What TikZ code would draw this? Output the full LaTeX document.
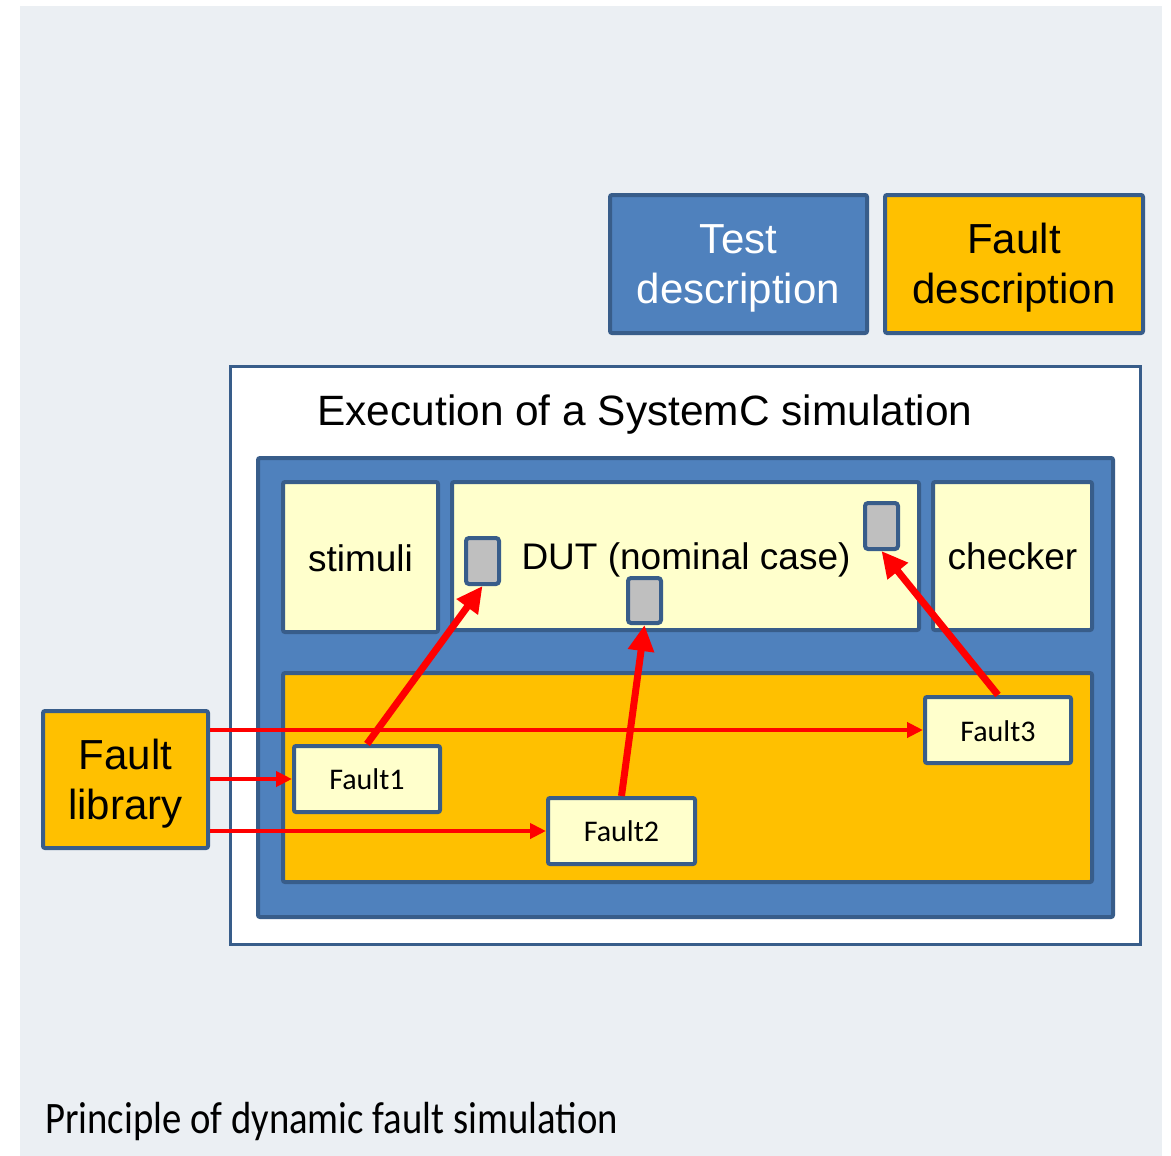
\documentclass[tikz,border=0pt]{standalone}
\usepackage{fontspec}
\setmainfont{Liberation Sans}
\newfontfamily\califont{Carlito}
\usetikzlibrary{fit,arrows.meta}
\definecolor{bgc}{RGB}{235,239,243}
\definecolor{bord}{RGB}{56,93,138}
\definecolor{bluef}{RGB}{79,129,189}
\definecolor{orangef}{RGB}{255,192,0}
\definecolor{yellowf}{RGB}{255,255,204}
\definecolor{greyf}{RGB}{191,191,191}
\definecolor{redc}{RGB}{255,0,0}
\begin{document}
\begin{tikzpicture}[x=1pt,y=-1pt,
  box/.style={draw=bord, line width=4pt, inner sep=0pt, rounded corners=2pt},
  bigtext/.style={font=\fontsize{42}{50}\selectfont, align=center, inner sep=0pt},
  midtext/.style={font=\fontsize{37}{44}\selectfont, inner sep=0pt},
  faulttext/.style={font=\califont\fontsize{30}{36}\selectfont, inner sep=0pt},
  thinarrow/.style={draw=redc, line width=4pt, -{Triangle[length=16pt,width=15pt]}},
  thickarrow/.style={draw=redc, line width=7pt, -{Triangle[length=26pt,width=25pt]}},
]
\useasboundingbox (0,0) rectangle (1171,1156);
\fill[bgc] (20,6) rectangle (1162,1156);

\node[box, fill=bluef, fit={(610,195) (867,333)}] (test) {};
\node[bigtext, text=white, yshift=-4pt] (testtext) at (test.center) {Test\\description};
\node[box, fill=orangef, fit={(885,195) (1143,333)}] (fdesc) {};
\node[bigtext, yshift=-4pt] (fdesctext) at (fdesc.center) {Fault\\description};

\node[draw=bord, line width=3pt, fill=white, inner sep=0pt, fit={(230,366) (1140,944)}] (exec) {};
\node[bigtext, anchor=base, font=\fontsize{42.4}{50}\selectfont] (title) at (645,425) {Execution of a SystemC simulation};

\node[box, fill=bluef, fit={(258,458) (1113,917)}] (sim) {};
\node[box, fill=yellowf, fit={(283,482) (438,632)}] (stim) {};
\node[midtext, anchor=base] (stimtext) at (360.5,571) {stimuli};
\node[box, fill=yellowf, fit={(452,482) (919,630)}] (dut) {};
\node[midtext, anchor=base] (duttext) at (686,569) {DUT (nominal case)};
\node[box, fill=yellowf, fit={(933,482) (1092,630)}] (check) {};
\node[midtext, anchor=base] (checktext) at (1012.5,569) {checker};

\node[box, fill=orangef, fit={(283,673) (1092,882)}] (faults) {};
\node[box, fill=yellowf, fit={(294,746) (440,812)}] (f1) {};
\node[faulttext, anchor=base] (f1text) at (367,789) {Fault1};
\node[box, fill=yellowf, fit={(548,798) (695,864)}] (f2) {};
\node[faulttext, anchor=base] (f2text) at (621.5,841) {Fault2};
\node[box, fill=yellowf, fit={(925,697) (1071,763)}] (f3) {};
\node[faulttext, anchor=base] (f3text) at (998,741) {Fault3};

\node[box, fill=orangef, fit={(43,711) (208,848)}] (lib) {};
\node[bigtext, yshift=-4pt] (libtext) at (lib.center) {Fault\\library};

\node[box, fill=greyf, rounded corners=3pt, fit={(466,538) (499,584)}] (sq1) {};
\node[box, fill=greyf, rounded corners=3pt, fit={(628,578) (661,623)}] (sq2) {};
\node[box, fill=greyf, rounded corners=3pt, fit={(865,503) (898,549)}] (sq3) {};

\draw[thinarrow] (lib.east |- f3.west) -- (f3.west);
\draw[thinarrow] (lib.east |- f1.west) -- (f1.west);
\draw[thinarrow] (lib.east |- f2.west) -- (f2.west);
\draw[thickarrow] (f1.north) -- (sq1.south);
\draw[thickarrow] (f2.north) -- (sq2.south);
\draw[thickarrow] (f3.north) -- (sq3.south);

\node[anchor=base west, inner sep=0pt, font=\califont\fontsize{45}{54}\selectfont] (cap) at (45,1133) {\scalebox{0.86}[1]{Principle of dynamic fault simulation}};
\end{tikzpicture}
\end{document}
